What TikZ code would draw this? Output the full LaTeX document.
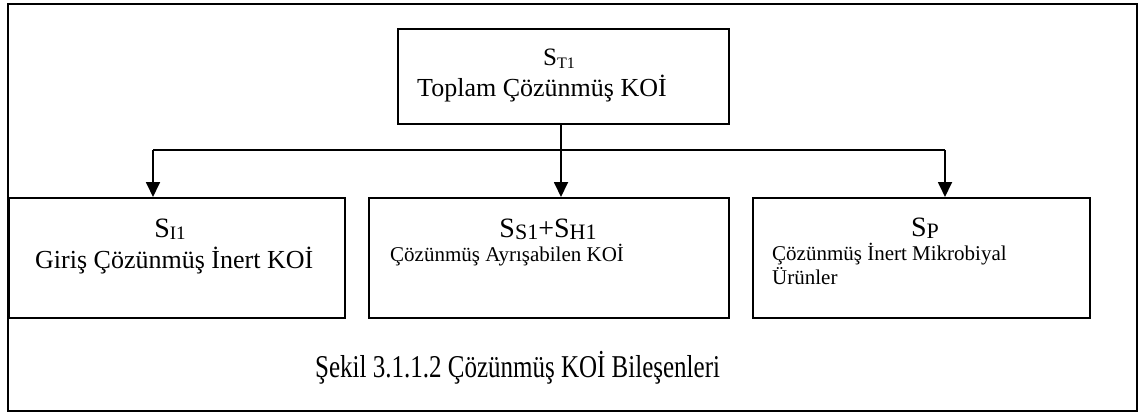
\documentclass[tikz,border=0pt]{standalone}
\usepackage{fontspec}
\setmainfont{Liberation Serif}
\usetikzlibrary{arrows.meta,calc}
\newcommand{\fs}[1]{\fontsize{#1}{#1}\selectfont}
\newcommand{\altind}[2]{\raisebox{-2pt}{\fs{#1}#2}}
\tikzset{
  kutu/.style={draw,line width=1.8pt,inner sep=0pt,anchor=north west},
  yazi/.style={inner sep=0pt,anchor=base west},
  sembol/.style={inner sep=0pt,anchor=base},
  ok/.style={line width=1.8pt,-{Triangle[length=15pt,width=14pt]}},
}
\begin{document}
\begin{tikzpicture}[x=1pt,y=-1pt]
  \useasboundingbox (0,0) rectangle (1148,412);
  \draw[line width=2.4pt] (8,4) rectangle (1137,411);
  % kutular
  \node[kutu,minimum width=331pt,minimum height=95pt] (toplam) at (397,28) {};
  \node[kutu,minimum width=336pt,minimum height=120pt] (giris) at (8,197) {};
  \node[kutu,minimum width=360pt,minimum height=120pt] (ayrisabilen) at (368,197) {};
  \node[kutu,minimum width=337pt,minimum height=120pt] (urunler) at (752,197) {};
  % yazilar
  \node[sembol] (stbir) at (559,66) {\fs{25}S\altind{16}{T1}};
  \node[yazi] (stad) at (417,96) {\fs{26}Toplam Çözünmüş KOİ};
  \node[sembol] (sibir) at (170,237) {\fs{28}S\altind{19}{I1}};
  \node[yazi] (siad) at (35,268) {\fs{26}Giriş Çözünmüş İnert KOİ};
  \node[sembol] (ssbir) at (548,237) {\fs{28}S\altind{22}{S1}+S\altind{22}{H1}};
  \node[yazi] (ssad) at (390,261) {\fs{21}Çözünmüş Ayrışabilen KOİ};
  \node[sembol] (spbir) at (925,236) {\fs{28}S\altind{22}{P}};
  \node[yazi,align=left,font=\fontsize{21}{24}\selectfont] (spad) at (772,284) {Çözünmüş İnert Mikrobiyal\\Ürünler};
  \node[yazi] (baslik) at (315,377) {\scalebox{1}[1.27]{\fs{25}Şekil 3.1.1.2 Çözünmüş KOİ Bileşenleri}};
  % oklar
  \coordinate (sol) at ([xshift=145pt]giris.north west);
  \coordinate (orta) at ([xshift=193pt]ayrisabilen.north west);
  \coordinate (sag) at ([xshift=193pt]urunler.north west);
  \coordinate (kol) at ($(toplam.south)+(0,25)$);
  \draw[line width=1.8pt] (orta |- toplam.south) -- (orta |- kol);
  \draw[line width=1.8pt] (sol |- kol) -- (sag |- kol);
  \draw[ok] (sol |- kol) -- (sol);
  \draw[ok] (orta |- kol) -- (orta);
  \draw[ok] (sag |- kol) -- (sag);
\end{tikzpicture}
\end{document}
